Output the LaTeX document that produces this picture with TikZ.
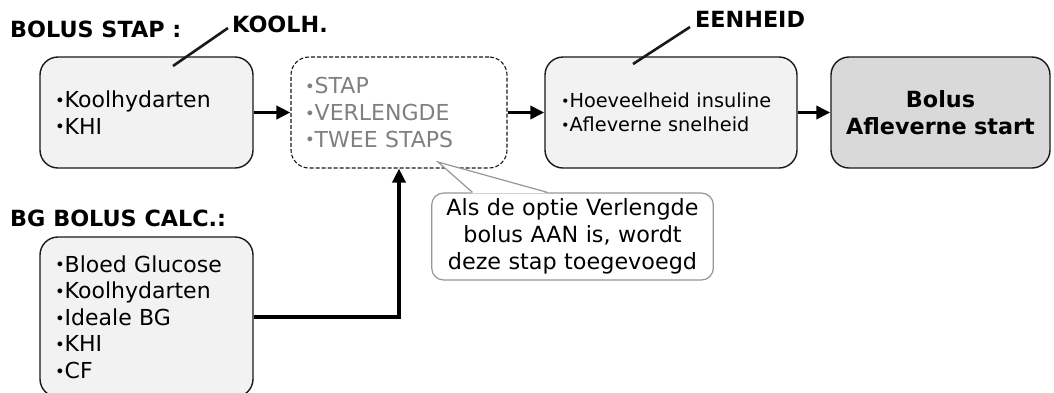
\documentclass[tikz,border=0pt]{standalone}
\usepackage{fontspec,graphicx}
\setmainfont{DejaVu Sans}
\definecolor{boxfill}{RGB}{242,242,242}
\definecolor{startfill}{RGB}{217,217,217}
\definecolor{stepgray}{RGB}{128,128,128}
\definecolor{notegray}{RGB}{150,150,150}
\definecolor{edgeblack}{RGB}{25,25,25}
\usetikzlibrary{arrows.meta,positioning}
\newcommand{\bul}{\raisebox{0.1ex}{\scalebox{0.75}{•}}}
\tikzset{
  stepbox/.style={draw=edgeblack, line width=1.4pt, rounded corners=18pt, fill=boxfill, minimum height=111pt, inner xsep=15pt, align=left, font=\fontsize{22}{26.6}\selectfont},
  heading/.style={anchor=west, inner sep=0pt, font=\fontsize{22.3}{26}\selectfont\bfseries},
  leader/.style={edgeblack, line width=2.6pt},
  flow/.style={black, line width=3.6pt, -{Triangle[length=14pt,width=13pt]}},
  notebox/.style={draw=notegray, line width=1.2pt, rounded corners=12pt, fill=white, align=center, text width=275pt, minimum height=87pt, font=\fontsize{22.3}{27}\selectfont}
}

\begin{document}
\begin{tikzpicture}[x=1pt,y=-1pt]
  \useasboundingbox (0,0) rectangle (1054,392);

  % top row of steps
  \node[stepbox, text width=183pt] (koolhbox) at (146.5,112.5) {\bul Koolhydarten\\\bul KHI};
  \node[stepbox, dashed, dash pattern=on 4pt off 2pt, line width=1.1pt, fill=white, text=stepgray, text width=188pt, inner xsep=14pt] (stapbox) at (399,112.5) {\bul STAP\\\bul VERLENGDE\\\bul TWEE STAPS};
  \node[stepbox, text width=220pt, inner xsep=16pt, font=\fontsize{19.3}{23.5}\selectfont] (eenheidbox) at (671,112.5) {\bul Hoeveelheid insuline\\\bul Afleverne snelheid};
  \node[stepbox, fill=startfill, text width=189pt, align=center, font=\fontsize{22.3}{27}\selectfont\bfseries] (startbox) at (940.5,112.5) {Bolus\\Afleverne start};

  % bg calculation
  \node[stepbox, text width=183pt, minimum height=160pt] (bgbox) at (146.5,317) {\bul Bloed Glucose\\\bul Koolhydarten\\\bul Ideale BG\\\bul KHI\\\bul CF};

  % headings
  \node[heading] (bolusstap) at (10,29) {BOLUS STAP :};
  \node[heading] (koolh) at (232,24) {KOOLH.};
  \node[heading] (eenheid) at (695,19) {EENHEID};
  \node[heading] (bgcalc) at (10,218) {BG BOLUS CALC.:};

  \coordinate (koolhpt) at (173,66);
  \coordinate (eenheidpt) at (633,64);
  \draw[leader] (koolhpt) -- ([xshift=-4pt,yshift=-4pt]koolh.west);
  \draw[leader] (eenheidpt) -- ([xshift=-5pt,yshift=-8pt]eenheid.west);

  % flow
  \draw[flow] (koolhbox) -- (stapbox);
  \draw[flow] (stapbox) -- (eenheidbox);
  \draw[flow] (eenheidbox) -- (startbox);
  \draw[flow] (bgbox.east) -| (stapbox.south);

  % note
  \node[notebox] (note) at (572.5,236.5) {Als de optie Verlengde\\bolus AAN is, wordt\\deze stap toegevoegd};
  \coordinate (notetip) at (438,162);
  \fill[white] ([xshift=-100pt,yshift=-1pt]note.north) -- (notetip) -- ([xshift=-25pt,yshift=-1pt]note.north) -- cycle;
  \draw[notegray, line width=1.2pt] ([xshift=-100pt]note.north) -- (notetip) -- ([xshift=-25pt]note.north);
\end{tikzpicture}
\end{document}
